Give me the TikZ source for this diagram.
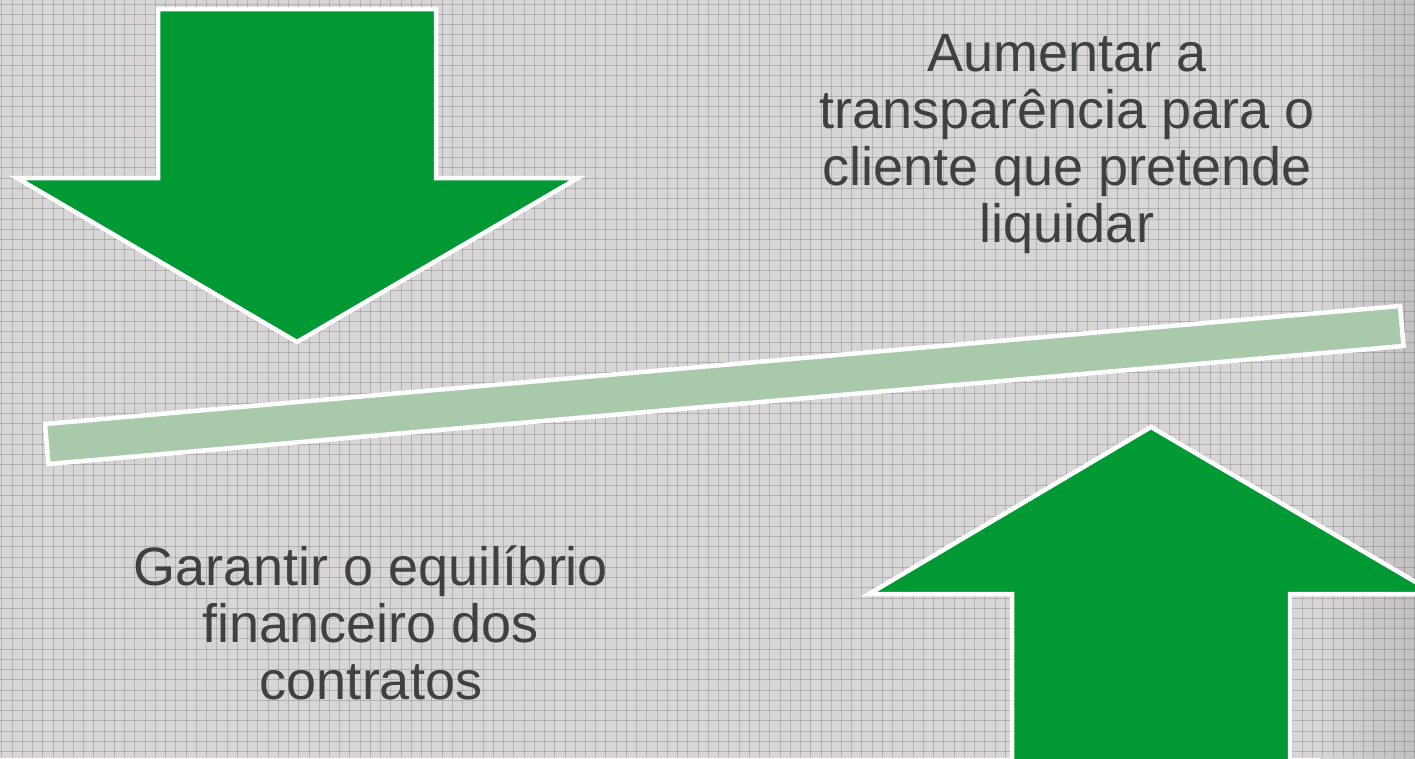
\documentclass[tikz,border=0pt]{standalone}
\usepackage{fontspec}
\setmainfont{Liberation Sans}
\begin{document}
\begin{tikzpicture}[x=1pt,y=-1pt]
\definecolor{bg}{HTML}{D7D5D5}
\definecolor{bgdark}{HTML}{C2C0C0}
\definecolor{arrowgreen}{HTML}{009933}
\definecolor{barg}{HTML}{A9C9AB}
\definecolor{txt}{HTML}{404040}
\tikzset{
  bigarrow/.style={fill=arrowgreen, draw=white, line width=4.5pt, line join=miter},
  barstyle/.style={fill=barg, draw=white, line width=4.5pt},
  txtstyle/.style={text=txt, font=\fontsize{54}{57}\selectfont, align=center, inner sep=0pt},
  gridline/.style={black, opacity=0.16, line width=0.8pt},
}
\useasboundingbox (0,0) rectangle (1415,758);
\fill[bg] (0,0) rectangle (1415,758);
\shade[left color=bg, right color=bgdark] (1320,0) rectangle (1415,758);
\foreach \i in {0,...,138} \draw[gridline] ({1.7+10.24*\i},0) -- ++(0,758);
\foreach \i in {0,...,73} \draw[gridline] (0,{4+10.24*\i}) -- ++(1415,0);
% top (down) arrow
\draw[bigarrow] (158,9) -- (436,9) -- (436,178) -- (578,178) -- (297,342) -- (17,178) -- (158,178) -- cycle;
% bottom (up) arrow
\draw[bigarrow] (1151,427) -- (1436,594) -- (1290,594) -- (1290,775) -- (1012,775) -- (1012,594) -- (869,594) -- cycle;
% balance bar
\draw[barstyle] (45,424) -- (1400,306) -- (1403.5,346) -- (48.5,464) -- cycle;
% texts
\node[txtstyle] (t1) at (1067,144.3) {Aumentar a\\transparência para o\\cliente que pretende\\liquidar};
\node[txtstyle] (t2) at (371,623) {Garantir o equilíbrio\\financeiro dos\\contratos};
\end{tikzpicture}
\end{document}
